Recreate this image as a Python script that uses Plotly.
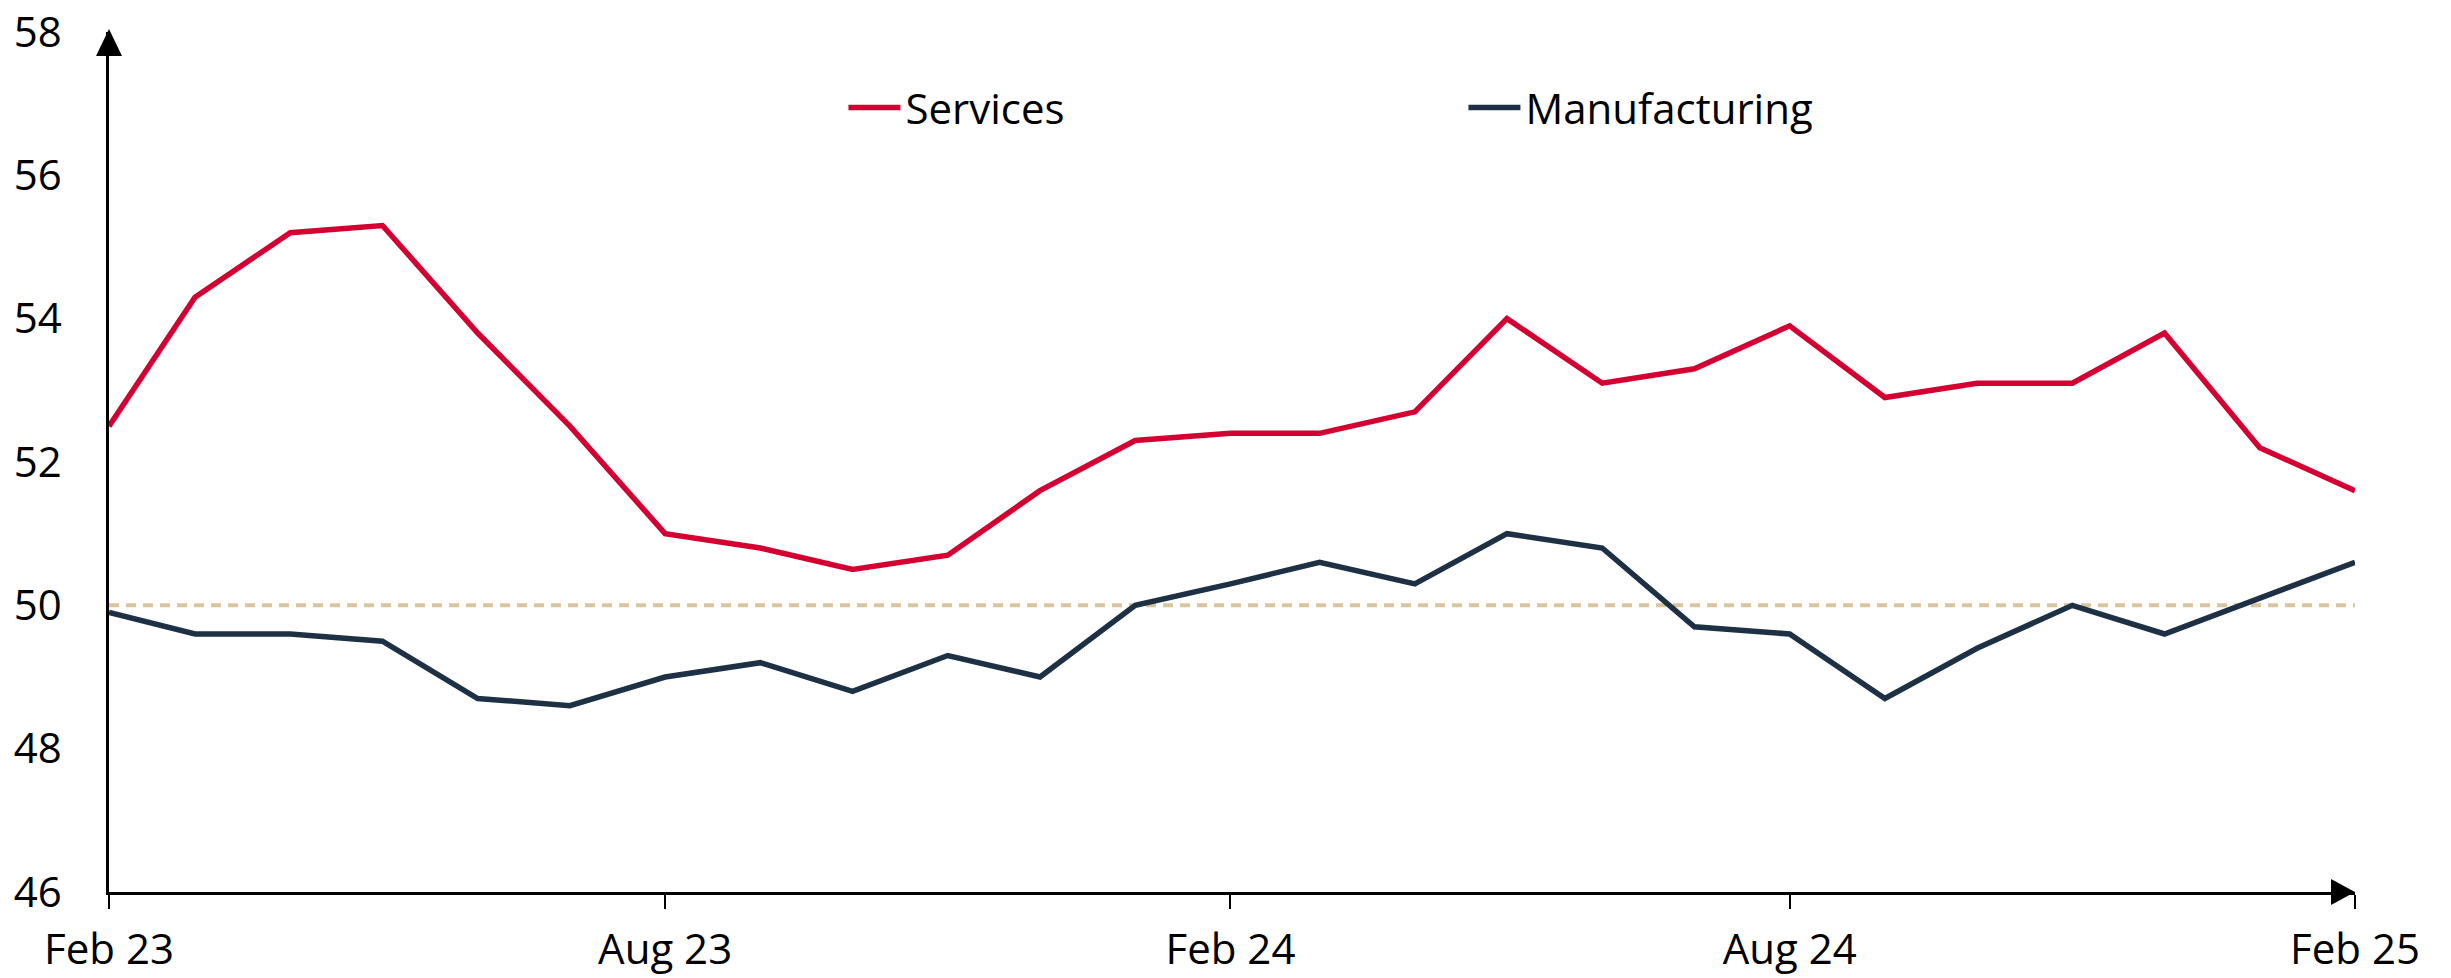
import pandas as pd
import plotly.graph_objects as go

# Monthly PMI readings, Feb 2023 - Feb 2025
months = pd.date_range("2023-02-01", "2025-02-01", freq="MS").strftime("%Y-%m-%d").tolist()
services = [52.5, 54.3, 55.2, 55.3, 53.8, 52.5, 51.0, 50.8, 50.5, 50.7, 51.6, 52.3,
            52.4, 52.4, 52.7, 54.0, 53.1, 53.3, 53.9, 52.9, 53.1, 53.1, 53.8, 52.2, 51.6]
manufacturing = [49.9, 49.6, 49.6, 49.5, 48.7, 48.6, 49.0, 49.2, 48.8, 49.3, 49.0, 50.0,
                 50.3, 50.6, 50.3, 51.0, 50.8, 49.7, 49.6, 48.7, 49.4, 50.0, 49.6, 50.1, 50.6]
threshold = 50
y_range = [46, 58]
y_ticks = [46, 48, 50, 52, 54, 56, 58]

RED = "#D50032"
NAVY = "#1D3044"
TAN = "#D9C4A0"
FONT = "Open Sans"
FS = 42

fig = go.Figure()

# 50 = expansion / contraction threshold
fig.add_trace(go.Scatter(
    x=[months[0], months[-1]], y=[threshold, threshold], mode="lines",
    line=dict(color=TAN, width=4, dash="10px,7px"), showlegend=False, hoverinfo="skip",
))
fig.add_trace(go.Scatter(
    x=months, y=services, mode="lines", name="Services",
    line=dict(color=RED, width=5.5),
))
fig.add_trace(go.Scatter(
    x=months, y=manufacturing, mode="lines", name="Manufacturing",
    line=dict(color=NAVY, width=5.5),
))

# Arrow heads at the ends of both axes (paper-anchored so they are not clipped)
fig.add_shape(type="path", xref="paper", yref="paper", xsizemode="pixel", ysizemode="pixel",
              xanchor=0, yanchor=1,
              path="M -13,-24 L 13,-24 L 0,3 Z", fillcolor="black", line=dict(width=0),
              layer="above")
fig.add_shape(type="path", xref="paper", yref="paper", xsizemode="pixel", ysizemode="pixel",
              xanchor=1, yanchor=0,
              path="M -24,-13 L -24,13 L 0,0 Z", fillcolor="black", line=dict(width=0),
              layer="above")

fig.update_layout(
    width=2451, height=978,
    margin=dict(l=109, r=96, t=32, b=86),
    paper_bgcolor="white", plot_bgcolor="white",
    font=dict(family=FONT, size=FS, color="black"),
    legend=dict(
        orientation="h", x=0.327, y=0.912, xanchor="left", yanchor="middle",
        font=dict(family=FONT, size=FS, color="black"),
        itemwidth=52,
        entrywidth=553, entrywidthmode="pixels", bgcolor="rgba(0,0,0,0)",
        itemclick=False, itemdoubleclick=False,
    ),
    xaxis=dict(
        type="date", range=[months[0], months[-1]],
        tick0=months[0], dtick="M6", tickformat="%b %y",
        showgrid=False, zeroline=False, automargin=False,
        showline=True, linecolor="black", linewidth=2.5,
        ticks="outside", ticklen=14, tickwidth=2, tickcolor="black",
        ticklabelstandoff=5,
        tickfont=dict(family=FONT, size=FS, color="black"),
    ),
    yaxis=dict(
        range=y_range, tickvals=y_ticks,
        showgrid=False, zeroline=False, automargin=False,
        showline=True, linecolor="black", linewidth=2.5,
        ticks="", ticklabelstandoff=36, ticklabeloverflow="allow",
        tickfont=dict(family=FONT, size=FS, color="black"),
    ),
    hovermode=False,
)

fig.write_html("out.html")
